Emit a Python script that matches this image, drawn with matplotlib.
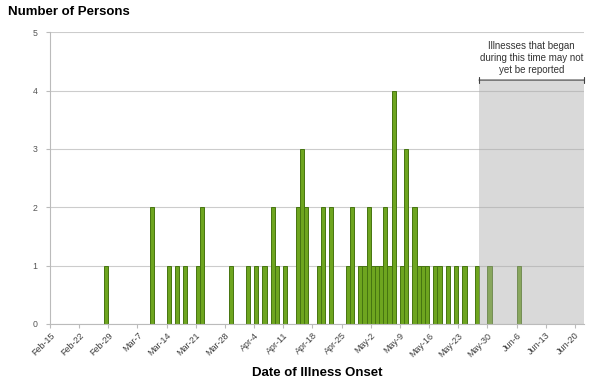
import matplotlib
matplotlib.use('Agg')
import matplotlib.pyplot as plt
import pandas as pd

plt.rcParams['font.family'] = ['Liberation Sans', 'DejaVu Sans']

# cases by date of illness onset (2012)
onset_dates = ['Feb-29', 'Mar-11', 'Mar-15', 'Mar-17', 'Mar-19', 'Mar-22', 'Mar-23', 'Mar-30',
               'Apr-3', 'Apr-5', 'Apr-7', 'Apr-9', 'Apr-10', 'Apr-12', 'Apr-15', 'Apr-16',
               'Apr-17', 'Apr-20', 'Apr-21', 'Apr-23', 'Apr-27', 'Apr-28', 'Apr-30',
               'May-1', 'May-2', 'May-3', 'May-4', 'May-5', 'May-6', 'May-7', 'May-8',
               'May-10', 'May-11', 'May-13', 'May-14', 'May-15', 'May-16', 'May-18',
               'May-19', 'May-21', 'May-23', 'May-25', 'May-28', 'May-31', 'Jun-7']
persons = [1, 2, 1, 1, 1, 1, 2, 1,
           1, 1, 1, 2, 1, 1, 2, 3,
           2, 1, 2, 2, 1, 2, 1,
           1, 2, 1, 1, 1, 2, 1, 4,
           1, 3, 2, 1, 1, 1, 1,
           1, 1, 1, 1, 1, 1, 1]

axis_start = '2012-02-15'
axis_end = '2012-06-20'
unreported_from = '2012-05-29'
note = 'Illnesses that began\nduring this time may not\nyet be reported'

start = pd.Timestamp(axis_start)
days = [(pd.to_datetime('2012-' + d, format='%Y-%b-%d') - start).days for d in onset_dates]
tick_dates = pd.date_range(axis_start, axis_end, freq='7D')
tick_pos = [(t - start).days for t in tick_dates]
tick_labels = [t.strftime('%b-') + str(t.day) for t in tick_dates]
gray_x0 = (pd.Timestamp(unreported_from) - start).days - 1
x_max = tick_pos[-1] + 2.2

fig = plt.figure(figsize=(6, 3.88), dpi=100)
ax = fig.add_axes([0.0833, 0.165, 0.89, 0.752])

ax.bar([d - 0.5 for d in days], persons, width=1.0, color='#6ea51f',
       edgecolor='#467510', linewidth=0.7, zorder=2)

# shaded period at the end
ax.axvspan(gray_x0, x_max, ymin=0, ymax=4.18 / 5, facecolor='#ababab',
           alpha=0.45, edgecolor='none', zorder=3)

ax.annotate('', xy=(gray_x0, 4.18), xytext=(x_max, 4.18),
            arrowprops=dict(arrowstyle='|-|', mutation_scale=2.0, color='#404040', lw=0.8,
                            shrinkA=0, shrinkB=0),
            zorder=4, annotation_clip=False)
ax.text((gray_x0 + x_max) / 2, 4.27, note, ha='center', va='bottom',
        fontsize=7, color='#333333', linespacing=1.25)

ax.set_xlim(0, x_max)
ax.set_ylim(0, 5)
ax.set_yticks(range(6))
ax.set_xticks(tick_pos)
ax.set_xticklabels(tick_labels, rotation=45, ha='right', rotation_mode='anchor',
                   fontsize=6.5, color='#404040')
ax.tick_params(axis='y', labelsize=6.3, labelcolor='#555555', color='#bbbbbb', length=3, pad=6)
ax.tick_params(axis='x', color='#bbbbbb', length=3, pad=2)
ax.grid(axis='y', color='#cccccc', linewidth=0.8, zorder=0)
ax.set_axisbelow(True)
for side in ['top', 'right']:
    ax.spines[side].set_visible(False)
for side in ['left', 'bottom']:
    ax.spines[side].set_color('#bbbbbb')

ax.set_xlabel('Date of Illness Onset', fontsize=9.5, fontweight='bold', labelpad=6)
fig.text(0.013, 0.968, 'Number of Persons', fontsize=9.5, fontweight='bold', va='center')

fig.savefig('out.png', dpi=100)
